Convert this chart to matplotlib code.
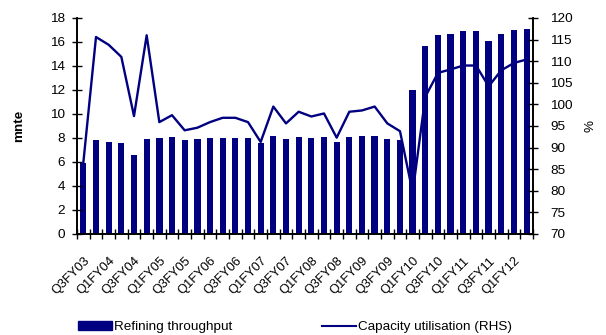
import numpy as np
import matplotlib.pyplot as plt
from matplotlib.patches import Patch
from matplotlib.lines import Line2D

plt.rcParams['font.family'] = ['Liberation Sans', 'DejaVu Sans']

quarters = ['Q3FY03', 'Q4FY03',
            'Q1FY04', 'Q2FY04', 'Q3FY04', 'Q4FY04',
            'Q1FY05', 'Q2FY05', 'Q3FY05', 'Q4FY05',
            'Q1FY06', 'Q2FY06', 'Q3FY06', 'Q4FY06',
            'Q1FY07', 'Q2FY07', 'Q3FY07', 'Q4FY07',
            'Q1FY08', 'Q2FY08', 'Q3FY08', 'Q4FY08',
            'Q1FY09', 'Q2FY09', 'Q3FY09', 'Q4FY09',
            'Q1FY10', 'Q2FY10', 'Q3FY10', 'Q4FY10',
            'Q1FY11', 'Q2FY11', 'Q3FY11', 'Q4FY11',
            'Q1FY12', 'Q2FY12']

# mn te
throughput = [5.9, 7.8, 7.7, 7.6, 6.6, 7.9, 8.0, 8.1, 7.8, 7.9,
              8.0, 8.0, 8.0, 8.0, 7.6, 8.2, 7.9, 8.1, 8.0, 8.1,
              7.7, 8.1, 8.2, 8.2, 7.9, 7.8, 12.0, 15.7, 16.6, 16.7,
              16.9, 16.9, 16.1, 16.7, 17.0, 17.1]

# %
utilisation = [86.5, 115.6, 113.8, 111.0, 97.3, 116.0, 95.9, 97.5, 94.0, 94.6,
               95.9, 96.9, 96.9, 95.9, 91.3, 99.5, 95.6, 98.3, 97.2, 97.9,
               92.3, 98.3, 98.6, 99.5, 95.6, 93.8, 79.6, 101.8, 107.3, 108.1,
               109.0, 109.0, 104.2, 107.9, 109.6, 110.4]

navy = '#000080'
fs = 9.7
x = np.arange(len(quarters))

fig = plt.figure(figsize=(6.06, 3.35), dpi=100)
ax = fig.add_axes([77 / 606, 1 - 234 / 335, 456 / 606, 216 / 335])
ax2 = ax.twinx()

ax.bar(x, throughput, width=0.5, color=navy)
ax2.plot(x, utilisation, color=navy, lw=1.7)

ax.set_xlim(-0.5, len(quarters) - 0.5)
ax.set_ylim(0, 18)
ax.set_yticks(range(0, 19, 2))
ax2.set_ylim(70, 120)
ax2.set_yticks(range(70, 121, 5))

ax.set_xticks(x[::2])
ax.set_xticklabels(quarters[::2], rotation=45, ha='right', rotation_mode='anchor')
ax.set_xticks(np.arange(-0.5, len(quarters)), minor=True)
ax.tick_params(axis='x', which='major', length=0, pad=15, labelsize=9.3)
ax.tick_params(axis='x', which='minor', length=7, width=1, direction='inout')
ax.tick_params(axis='y', length=7, width=1, direction='inout', pad=5, labelsize=fs)
ax2.tick_params(axis='y', length=7, width=1, direction='inout', pad=9, labelsize=fs)

for a in (ax, ax2):
    a.spines['top'].set_visible(False)
    for s in ('left', 'right', 'bottom'):
        a.spines[s].set_linewidth(1.2)

ax.set_ylabel('mnte', fontsize=fs, fontweight='bold', labelpad=18)
ax2.set_ylabel('%', fontsize=fs, labelpad=8)

handles = [Patch(color=navy), Line2D([], [], color=navy, lw=1.5)]
fig.legend(handles, ['Refining throughput', 'Capacity utilisation (RHS)'],
           loc='center left', bbox_to_anchor=(78 / 606, 1 - 327 / 335), ncol=2,
           frameon=False, fontsize=fs, handlelength=2.5, handleheight=0.6,
           handletextpad=0.15, columnspacing=6.7, borderpad=0, borderaxespad=0)

fig.savefig('out.png', dpi=100)
